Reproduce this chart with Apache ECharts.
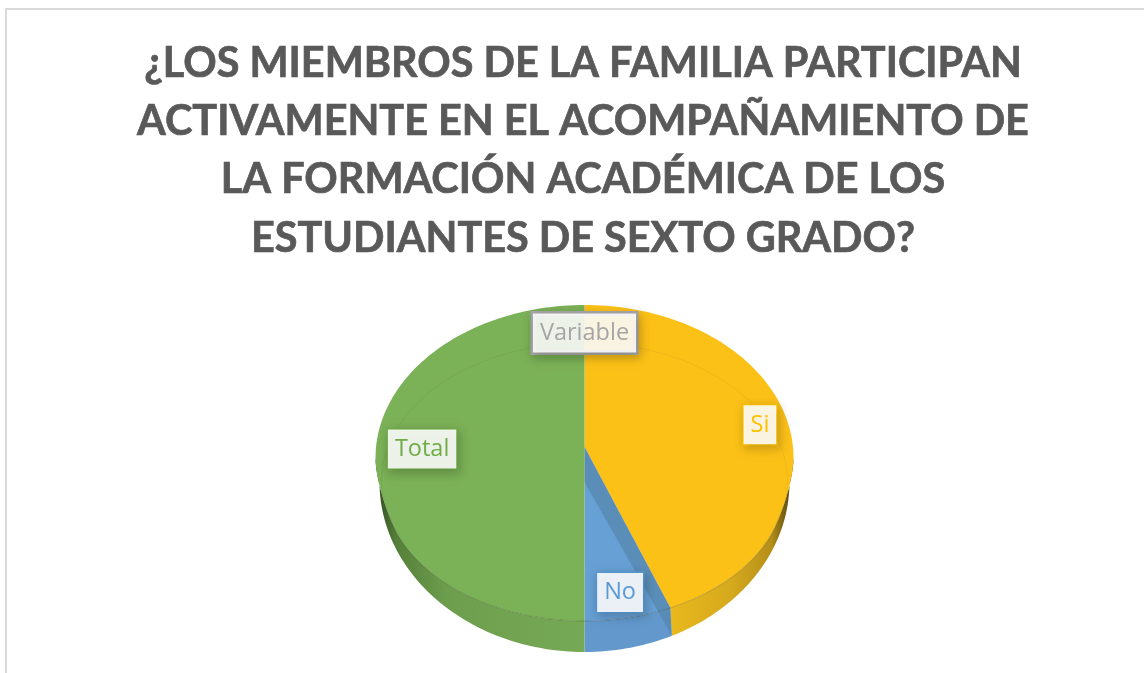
<!DOCTYPE html>
<html>
<head>
<meta charset="utf-8">
<style>html,body{margin:0;padding:0;background:#fff}#c{width:1144px;height:673px}</style>
<script src="https://cdn.jsdelivr.net/npm/echarts@6/dist/echarts.min.js"></script>
</head>
<body>
<div id="c"></div>
<script>
const titleText = "¿LOS MIEMBROS DE LA FAMILIA PARTICIPAN\nACTIVAMENTE EN EL ACOMPAÑAMIENTO DE\nLA FORMACIÓN ACADÉMICA DE LOS\nESTUDIANTES DE SEXTO GRADO?";
const categories = ["Variable", "Si", "No", "Total"];
const values = [0, 43, 7, 50];
const faceColors = ["#a5a5a5", "#fcc117", "#67a0d5", "#7bb157"];
const textColors = ["#a5a5a5", "#ffc000", "#5b9bd5", "#70ad47"];
const labelRadiusX = [0, 0.86, 0.78, 0.777];
const labelRadiusY = [0.734, 0.70, 0.93, 0.7];
const G = {cx:584.5, apexY:447, lowerApexY:482, backY:458, backRx:209, backRy:153, rimY:482, rimRx:201.5, ringRx:203, rimRy:139, outY:482, outRx:205, outRy:170, labelY:449, labelRx:209, labelRy:158};
const wallFills = {
  Si: {type:'linear',x:0,y:0,x2:1,y2:0,colorStops:[{offset:0,color:'#e9b81c'},{offset:.5,color:'#d5a91e'},{offset:.82,color:'#b58f18'},{offset:1,color:'#4f3f0c'}]},
  No: '#6298cc',
  Total: {type:'linear',x:0,y:0,x2:1,y2:0,colorStops:[{offset:0,color:'#2f4a20'},{offset:.1,color:'#55803a'},{offset:.35,color:'#6d9e4d'},{offset:1,color:'#76a955'}]}
};
const total = values.reduce((a,b)=>a+b,0);
const rad = d => d*Math.PI/180;
function smooth(t){t=Math.max(0,Math.min(1,t));return t*t*(3-2*t);}
function facePt(deg){
  const s=Math.sin(rad(deg)), c=Math.cos(rad(deg));
  const f = deg>180 ? 360-deg : deg;
  const back=[G.cx+G.backRx*s, G.backY-G.backRy*c];
  if(f<=90) return back;
  const rim=[G.cx+G.rimRx*s, G.rimY-G.rimRy*c];
  const w=smooth((f-90)/25);
  return [back[0]+(rim[0]-back[0])*w, back[1]+(rim[1]-back[1])*w];
}
function outPt(deg){
  return [G.cx+G.outRx*Math.sin(rad(deg)), G.outY-G.outRy*Math.cos(rad(deg))];
}
function range(a,b){const r=[];const n=Math.max(2,Math.ceil((b-a)/1.5));for(let i=0;i<=n;i++)r.push(a+(b-a)*i/n);return r;}
function span(i){
  let s=0;for(let k=0;k<i;k++)s+=values[k];
  return [s/total*360,(s+values[i])/total*360];
}
function renderSlice(params, api){
  const i=params.dataIndex, [a,b]=span(i), v=api.value(1), children=[];
  if(!v) return {type:'group',children};
  const name=categories[i];
  const wa=Math.max(a,90), wb=Math.min(b,270);
  if(wb>wa){
    const arc=range(wa,wb);
    children.push({type:'polygon',shape:{points:arc.map(facePt).concat(arc.slice().reverse().map(outPt))},style:{fill:wallFills[name]}});
  }
  children.push({type:'polygon',shape:{points:[[G.cx,G.apexY]].concat(range(a,b).map(facePt))},style:{fill:faceColors[i]}});
  if(name==="No"){
    children.push({type:'polygon',shape:{points:[[G.cx,G.apexY],facePt(a),outPt(a),[G.cx,G.lowerApexY]]},style:{fill:'rgba(82,130,165,0.6)'}});
  }
  return {type:'group',children};
}
function renderLabel(params, api){
  const i=params.dataIndex,[a,b]=span(i),m=rad((a+b)/2),children=[];
  if(i===0){
    const ring=range(0,360).map(d=>[G.cx+G.ringRx*Math.sin(rad(d)),G.rimY-G.rimRy*Math.cos(rad(d))]);
    children.push({type:'polygon',shape:{points:ring},style:{fill:'none',stroke:'rgba(60,60,30,0.07)',lineWidth:1}});
    const front=range(100,260).map(facePt);
    children.push({type:'polyline',shape:{points:front},style:{fill:'none',stroke:'rgba(50,60,30,0.2)',lineWidth:1}});
  }
  children.push({type:'text',x:G.cx+G.labelRx*labelRadiusX[i]*Math.sin(m),y:G.labelY-G.labelRy*labelRadiusY[i]*Math.cos(m),z2:10,style:{
    text:api.value(0),align:'center',verticalAlign:'middle',fontFamily:'"Open Sans"',fontSize:23.5,fill:textColors[i],
    backgroundColor:'rgba(255,255,255,0.88)',borderColor:textColors[i],borderWidth:i===0?2.5:1.5,padding:[8,7,7,7],
    shadowBlur:10,shadowColor:'rgba(0,0,0,0.2)',shadowOffsetX:2,shadowOffsetY:3
  }});
  return {type:'group',children};
}
const rows=categories.map((c,i)=>[c,values[i]]);
const chart=echarts.init(document.getElementById('c'),null,{renderer:'canvas'});
chart.setOption({
  animation:false,
  backgroundColor:'#fff',
  title:{text:titleText,left:578,top:29,textAlign:'center',textStyle:{fontFamily:'Lato',fontWeight:'bold',fontSize:41.4,lineHeight:58.4,color:'#595959',textBorderColor:'#595959',textBorderWidth:0.7}},
  graphic:[{type:'rect',shape:{x:6,y:9,width:1300,height:800},style:{fill:'none',stroke:'#d9d9d9',lineWidth:2},silent:true}],
  series:[
    {type:'custom',coordinateSystem:'none',data:rows,renderItem:renderSlice,silent:true,z:2},
    {type:'custom',coordinateSystem:'none',data:rows,renderItem:renderLabel,silent:true,z:3}
  ]
});
</script>
</body>
</html>
